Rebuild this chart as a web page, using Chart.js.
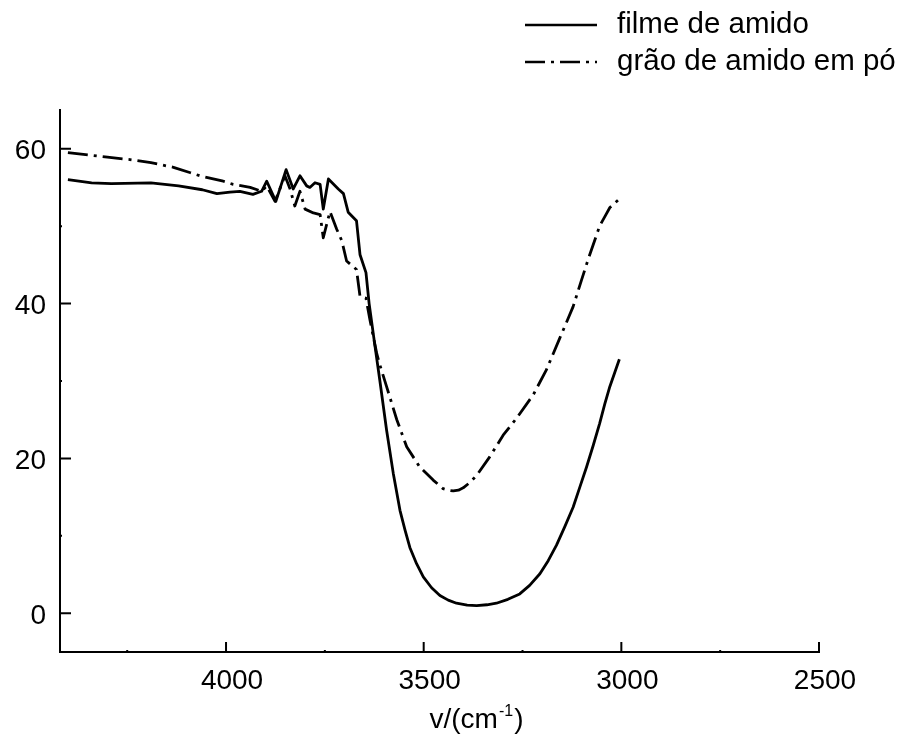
<!DOCTYPE html>
<html>
<head>
<meta charset="utf-8">
<script src="https://cdn.jsdelivr.net/npm/chart.js@4.4.1/dist/chart.umd.min.js"></script>
<style>
  html, body { margin: 0; padding: 0; background: #ffffff; }
  canvas { display: block; }
</style>
</head>
<body>
<canvas id="c" width="898" height="734"></canvas>
<script>
// ---- data (wavenumber cm^-1, transmittance %) ----
const filmeWavenumber = [4400,4340,4290,4190,4120,4060,4023,3990,3965,3932,3910,3897,3874,3848,3830,3813,3796,3788,3775,3762,3754,3741,3716,3703,3691,3670,3661,3646,3638,3624,3611,3594,3577,3560,3547,3535,3518,3501,3480,3459,3438,3417,3390,3366,3340,3316,3287,3257,3232,3206,3185,3164,3143,3122,3105,3088,3071,3055,3042,3029,3016,3005];
const filmeValues     = [56.0,55.6,55.5,55.6,55.2,54.7,54.2,54.4,54.5,54.1,54.5,55.8,53.2,57.3,54.8,56.5,55.2,55.0,55.6,55.4,52.2,56.1,54.8,54.2,51.8,50.7,46.3,44.0,40.0,34.8,30.1,23.7,18.1,13.3,10.7,8.5,6.4,4.7,3.3,2.3,1.7,1.3,1.05,1.0,1.1,1.3,1.8,2.5,3.6,5.1,6.8,8.8,11.2,13.7,16.3,18.9,21.7,24.5,27.0,29.3,31.2,32.8];

const graoWavenumber  = [4400,4300,4243,4190,4133,4090,4066,4007,3982,3939,3910,3897,3876,3851,3838,3826,3813,3800,3779,3762,3754,3737,3720,3707,3695,3670,3661,3646,3636,3619,3611,3594,3568,3543,3510,3476,3451,3438,3425,3412,3400,3383,3366,3333,3299,3265,3223,3190,3156,3122,3101,3084,3055,3040,3029,3005];
const graoValues      = [59.5,58.9,58.6,58.2,57.6,56.9,56.5,55.8,55.4,55.0,54.5,55.2,53.2,56.5,54.8,52.6,54.5,52.2,51.7,51.5,48.5,51.9,49.6,48.1,45.5,44.4,40.9,40.7,37.9,33.6,32.1,29.3,25.0,21.5,18.9,17.2,16.1,15.9,15.8,15.9,16.2,16.9,17.8,20.2,23.0,25.2,28.2,31.4,35.5,39.6,43.0,45.7,50.0,51.4,52.4,53.5];

const seriesLabels = ['filme de amido', 'grão de amido em pó'];
const xTickValues  = [4000, 3500, 3000, 2500];
const xMinorTicks  = [4250, 3750, 3250, 2750];
const yTickValues  = [0, 20, 40, 60];
const yMinorTicks  = [10, 30, 50];
const xAxisTitle   = ['v/(cm', '-1', ')'];

const FONT = "'Liberation Sans', Arial, Helvetica, sans-serif";

function toPoints(xs, ys) { return xs.map((x, i) => ({ x: x, y: ys[i] })); }

const tickMarks = {
  id: 'tickMarks',
  afterDraw(chart) {
    const ctx = chart.ctx;
    const xs = chart.scales.x, ys = chart.scales.y;
    const a = chart.chartArea;
    ctx.save();
    ctx.strokeStyle = '#000';
    ctx.lineWidth = 2;
    ctx.beginPath();
    xTickValues.forEach(v => { const p = xs.getPixelForValue(v); ctx.moveTo(p, a.bottom); ctx.lineTo(p, a.bottom - 10); });
    xMinorTicks.forEach(v => { const p = xs.getPixelForValue(v); ctx.moveTo(p, a.bottom); ctx.lineTo(p, a.bottom - 2); });
    yTickValues.forEach(v => { const p = ys.getPixelForValue(v); ctx.moveTo(a.left, p); ctx.lineTo(a.left + 11, p); });
    yMinorTicks.forEach(v => { const p = ys.getPixelForValue(v); ctx.moveTo(a.left, p); ctx.lineTo(a.left + 2, p); });
    ctx.stroke();

    // x-axis title with superscript
    ctx.fillStyle = '#000';
    ctx.textBaseline = 'alphabetic';
    ctx.textAlign = 'left';
    ctx.font = '28px ' + FONT;
    const w1 = ctx.measureText(xAxisTitle[0]).width;
    const w3 = ctx.measureText(xAxisTitle[2]).width;
    ctx.font = '16px ' + FONT;
    const w2 = ctx.measureText(xAxisTitle[1]).width;
    const total = w1 + w2 + w3;
    const cx = a.left + (a.right - a.left) * 0.5 + 36;
    const base = 728;
    let x0 = cx - total / 2;
    ctx.font = '28px ' + FONT;
    ctx.fillText(xAxisTitle[0], x0, base);
    ctx.font = '16px ' + FONT;
    ctx.fillText(xAxisTitle[1], x0 + w1 + 1, base - 12);
    ctx.font = '28px ' + FONT;
    ctx.fillText(xAxisTitle[2], x0 + w1 + w2 + 2, base);

    // legend
    const lx0 = 525, lx1 = 597, tx = 617;
    const rows = [25, 62];
    chart.data.datasets.forEach((ds, i) => {
      const y = rows[i];
      ctx.save();
      ctx.lineWidth = 2.5;
      ctx.strokeStyle = ds.borderColor;
      ctx.setLineDash(ds.borderDash || []);
      ctx.beginPath();
      ctx.moveTo(lx0, y); ctx.lineTo(lx1, y);
      ctx.stroke();
      ctx.restore();
      ctx.font = '29.5px ' + FONT;
      ctx.fillStyle = '#000';
      ctx.textBaseline = 'middle';
      ctx.fillText(ds.label, tx, y);
    });
    ctx.restore();
  }
};

new Chart(document.getElementById('c'), {
  type: 'line',
  data: {
    datasets: [
      { label: seriesLabels[0], data: toPoints(filmeWavenumber, filmeValues), borderColor: '#000', borderWidth: 2.8, borderDash: [], borderJoinStyle: 'round', pointRadius: 0, tension: 0, fill: false },
      { label: seriesLabels[1], data: toPoints(graoWavenumber, graoValues), borderColor: '#000', borderWidth: 2.8, borderDash: [20, 6, 3, 6], borderJoinStyle: 'round', pointRadius: 0, tension: 0, fill: false }
    ]
  },
  options: {
    responsive: false,
    animation: false,
    devicePixelRatio: 1,
    layout: { padding: { top: 110, right: 79, left: 0, bottom: 0 } },
    plugins: { legend: { display: false }, tooltip: { enabled: false } },
    scales: {
      x: {
        type: 'linear',
        reverse: true,
        min: 2500,
        max: 4420,
        afterBuildTicks: s => { s.ticks = xTickValues.map(v => ({ value: v })); },
        afterFit: s => { s.height = 82; },
        grid: { display: false, drawTicks: false },
        border: { display: true, color: '#000', width: 2 },
        ticks: { color: '#000', font: { family: FONT, size: 28 }, padding: 12, labelOffset: 6, maxRotation: 0, autoSkip: false, callback: v => String(v) }
      },
      y: {
        type: 'linear',
        min: -5,
        max: 65,
        afterBuildTicks: s => { s.ticks = yTickValues.map(v => ({ value: v })); },
        afterFit: s => { s.width = 60; },
        grid: { display: false, drawTicks: false },
        border: { display: true, color: '#000', width: 2 },
        ticks: { color: '#000', font: { family: FONT, size: 28 }, padding: 14, labelOffset: 3, autoSkip: false, callback: v => String(v) }
      }
    }
  },
  plugins: [tickMarks]
});
</script>
</body>
</html>
